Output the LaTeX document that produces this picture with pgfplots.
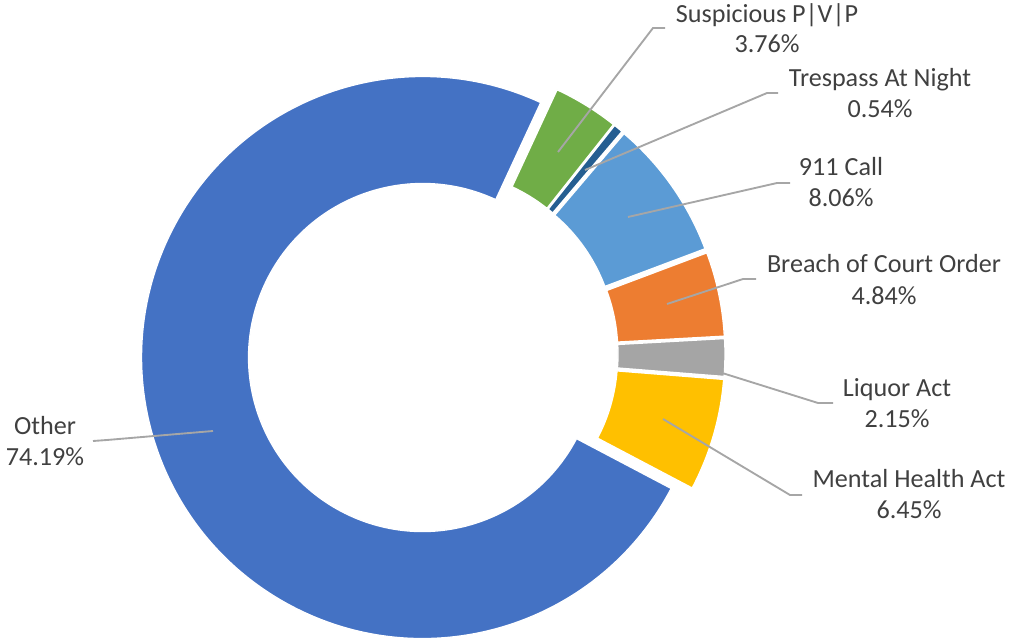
\documentclass[border=0pt]{standalone}
\usepackage{fontspec}
\setmainfont{Carlito}
\usepackage{pgfplots}
\usepackage{pgfplotstable}
\pgfplotsset{compat=1.18}

\definecolor{c911}{HTML}{5B9BD5}
\definecolor{cBreach}{HTML}{ED7D31}
\definecolor{cLiquor}{HTML}{A5A5A5}
\definecolor{cMental}{HTML}{FFC000}
\definecolor{cOther}{HTML}{4472C4}
\definecolor{cSusp}{HTML}{70AD47}
\definecolor{cTresp}{HTML}{255E91}
\definecolor{labeltext}{HTML}{404040}
\definecolor{leader}{HTML}{A6A6A6}

% slices in clockwise order, starting at 65.1 deg
\pgfplotstableread[col sep=comma]{
label,value,color
Suspicious P|V|P,3.76,cSusp
Trespass At Night,0.54,cTresp
911 Call,8.06,c911
Breach of Court Order,4.84,cBreach
Liquor Act,2.15,cLiquor
Mental Health Act,6.45,cMental
Other,74.19,cOther
}\slices

\newcommand\labelfont{\fontsize{19.6}{23.5}\selectfont}
% two-line data label: x, baseline 1, baseline 2, name, percent
\newcommand\callout[5]{%
  \node[anchor=base, text=labeltext, font=\labelfont, inner sep=0pt] at (axis cs:#1,#2) {#4};
  \node[anchor=base, text=labeltext, font=\labelfont, inner sep=0pt] at (axis cs:#1,#3) {#5};
}

\begin{document}
\begin{tikzpicture}
\begin{axis}[
  x=0.75pt, y=0.75pt,
  xmin=0, xmax=1009, ymin=0, ymax=638,
  hide axis, clip=false,
  scale only axis,
]
\coordinate (ll) at (axis cs:0,0);
\coordinate (ur) at (axis cs:1009,638);

\pgfplotsextra{
  \pgfplotstablegetrowsof{\slices}
  \pgfmathtruncatemacro\nrows{\pgfplotsretval-1}
  \xdef\acur{65.1}
  \foreach \i in {0,...,\nrows} {
    \pgfplotstablegetelem{\i}{value}\of\slices \let\v\pgfplotsretval
    \pgfplotstablegetelem{\i}{color}\of\slices \edef\col{\pgfplotsretval}
    \pgfmathsetmacro\aone{\acur}
    \pgfmathsetmacro\atwo{\acur-3.6*\v}
    \pgfmathsetmacro\amid{(\aone+\atwo)/2}
    \pgfmathsetmacro\cx{433+11*cos(\amid)}
    \pgfmathsetmacro\cy{284+11*sin(\amid)}
    \pgfmathsetmacro\xa{\cx+281*cos(\aone)}
    \pgfmathsetmacro\ya{\cy+281*sin(\aone)}
    \pgfmathsetmacro\xb{\cx+174*cos(\atwo)}
    \pgfmathsetmacro\yb{\cy+174*sin(\atwo)}
    \fill[fill=\col, draw=white, line width=1pt]
      (axis cs:\xa,\ya) arc[start angle=\aone, end angle=\atwo, radius=210.75pt]
      -- (axis cs:\xb,\yb) arc[start angle=\atwo, end angle=\aone, radius=130.5pt]
      -- cycle;
    \xdef\acur{\atwo}
  }
}

% leader lines
\addplot[leader, line width=1.4pt, no marks] coordinates {(558,486) (653,610) (665,610)};
\addplot[leader, line width=1.4pt, no marks] coordinates {(585,468) (767,545) (778,545)};
\addplot[leader, line width=1.4pt, no marks] coordinates {(628,421) (777,455) (790,455)};
\addplot[leader, line width=1.4pt, no marks] coordinates {(667,334) (743,359) (756,359)};
\addplot[leader, line width=1.4pt, no marks] coordinates {(719,266) (818,235) (833,235)};
\addplot[leader, line width=1.4pt, no marks] coordinates {(663,219) (790,143) (802,143)};
\addplot[leader, line width=1.4pt, no marks] coordinates {(213,207) (107,198) (93,197)};

\callout{767}{615}{585}{Suspicious P|V|P}{3.76\%}
\callout{880}{551}{520}{Trespass At Night}{0.54\%}
\callout{841}{462}{431}{911 Call}{8.06\%}
\callout{884}{365}{333}{Breach of Court Order}{4.84\%}
\callout{897}{241}{210}{Liquor Act}{2.15\%}
\callout{909}{150}{119}{Mental Health Act}{6.45\%}
\callout{45}{203}{172}{Other}{74.19\%}
\end{axis}
\pgfresetboundingbox
\path[use as bounding box] (ll) rectangle (ur);
\end{tikzpicture}
\end{document}
